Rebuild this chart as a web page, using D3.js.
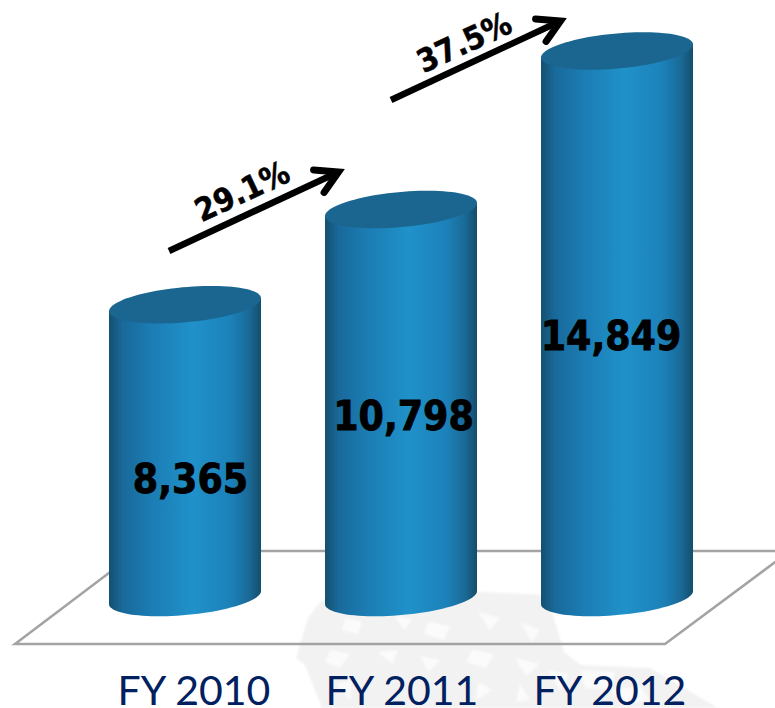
<!DOCTYPE html>
<html><head><meta charset="utf-8">
<style>html,body{margin:0;padding:0;background:#fff;overflow:hidden}svg{display:block}</style>
<script src="https://cdn.jsdelivr.net/npm/d3@7/dist/d3.min.js"></script>
</head><body><svg id="chart" width="775" height="708"></svg>
<script>
const categories = ["FY 2010", "FY 2011", "FY 2012"];
const revenue = [8365, 10798, 14849];
const growthLabels = ["29.1%", "37.5%"];
const valueLabels = ["8,365", "10,798", "14,849"];

const svg = d3.select("#chart");
const x = d3.scalePoint().domain(categories).range([185, 617]);
const y = d3.scaleLinear().domain([0, 14849]).range([632, 51]);

const halfWidth = 76, tipSkew = -6.5, rim = 17.6, baseY = 597.5;
const angles = d3.range(0, 361, 4).map(d => d * Math.PI / 180);
const rimPoint = (cx, cy, t) => [cx + halfWidth * Math.cos(t), cy + tipSkew * Math.cos(t) + rim * Math.sin(t)];
const line = d3.line();

const defs = svg.append("defs");
const body = defs.append("linearGradient").attr("id", "cylinder");
[[0, "#14506f"], [0.09, "#19699a"], [0.28, "#1b7db3"], [0.55, "#2091ca"], [0.8, "#1c81b9"], [0.92, "#1a6a97"], [1, "#144d6c"]]
  .forEach(([o, c]) => body.append("stop").attr("offset", o).attr("stop-color", c));
defs.append("filter").attr("id", "soften").append("feGaussianBlur").attr("stdDeviation", 1);

// Faint emblem behind the floor: a pale silhouette with small white flecks
const emblem = [[308,618],[322,600],[480,592],[547,595],[564,652],[581,665],[650,668],[718,708],[322,708],[305,665],[296,658]];
const flecks = [
  [[345,618],[362,622],[358,634],[342,630]], [[395,616],[412,620],[404,630]],
  [[428,622],[450,626],[444,640],[424,634]], [[478,612],[500,618],[490,630]],
  [[520,622],[540,630],[532,642]], [[330,650],[350,654],[340,668],[325,662]],
  [[378,652],[398,650],[392,664]], [[420,656],[440,660],[428,672]],
  [[472,650],[494,654],[486,668],[466,662]], [[515,658],[540,664],[526,676]],
  [[336,684],[352,680],[350,700]], [[478,682],[492,690],[476,700]],
  [[520,684],[530,700],[516,702]], [[580,670],[615,672],[610,690],[585,688]],
  [[610,690],[640,686],[650,700],[622,704]], [[548,670],[568,674],[560,690]]
];
const backdrop = svg.append("g").attr("filter", "url(#soften)");
backdrop.append("path").attr("d", line(emblem) + "Z").attr("fill", "#f2f2f2");
backdrop.selectAll("path.fleck").data(flecks).join("path").attr("class", "fleck")
  .attr("d", d => line(d) + "Z").attr("fill", "#fbfbfb");

// Floor plane
svg.append("path")
  .attr("d", line([[138, 551], [790, 551], [665, 644], [15, 644]]) + "Z")
  .attr("fill", "none").attr("stroke", "#a3a3a3").attr("stroke-width", 2.5);

// Cylinders
const bars = svg.append("g").selectAll("g").data(categories).join("g");
bars.append("path")
  .attr("d", (c, i) => {
    const cx = x(c), top = y(revenue[i]);
    const lower = angles.filter(t => t <= Math.PI).map(t => rimPoint(cx, baseY, t));
    return line([rimPoint(cx, top, 0), ...lower, rimPoint(cx, top, Math.PI)]) + "Z";
  })
  .attr("fill", "url(#cylinder)");
bars.append("path")
  .attr("d", (c, i) => line(angles.map(t => rimPoint(x(c), y(revenue[i]), t))) + "Z")
  .attr("fill", "#1a6690");

// Value labels
bars.append("text")
  .attr("x", (c, i) => x(c) + [5.5, 2.5, -6][i])
  .attr("y", (c, i) => [493, 430, 350][i])
  .attr("text-anchor", "middle")
  .attr("font-family", "'DejaVu Sans Condensed', 'DejaVu Sans', sans-serif").attr("font-weight", 700)
  .attr("font-size", 40.5).attr("fill", "#000").attr("stroke", "#000").attr("stroke-width", 0.8)
  .text((c, i) => valueLabels[i]);

// Category labels
svg.append("g").selectAll("text").data(categories).join("text")
  .attr("x", (c, i) => x(c) + [9, 1, -7][i]).attr("y", 705)
  .attr("text-anchor", "middle")
  .attr("font-family", "Lato, sans-serif")
  .attr("font-size", 41).attr("fill", "#002060")
  .text(c => c);

// Growth arrows between consecutive years
const arrowPaths = [[[169, 251], [338.5, 172]], [[391, 100], [560.5, 21]]];
const labelSpots = [[242, 191, -25], [464, 42, -25]];
const arrows = svg.append("g").selectAll("g").data(growthLabels).join("g");
arrows.append("path")
  .attr("d", (g, i) => line(arrowPaths[i]))
  .attr("fill", "none").attr("stroke", "#000").attr("stroke-width", 6.5);
arrows.append("path")
  .attr("d", (g, i) => {
    const [a, b] = arrowPaths[i], ang = Math.atan2(b[1] - a[1], b[0] - a[0]);
    const barb = s => [b[0] - 25 * Math.cos(ang + s), b[1] - 25 * Math.sin(ang + s)];
    return line([barb(0.52), b, barb(-0.52)]);
  })
  .attr("fill", "none").attr("stroke", "#000").attr("stroke-width", 7)
  .attr("stroke-linecap", "round").attr("stroke-linejoin", "miter");
arrows.append("text")
  .attr("transform", (g, i) => `translate(${labelSpots[i][0]},${labelSpots[i][1]}) rotate(${labelSpots[i][2]})`)
  .attr("text-anchor", "middle").attr("dy", "0.36em")
  .attr("font-family", "'DejaVu Sans Condensed', 'DejaVu Sans', sans-serif").attr("font-weight", 700)
  .attr("font-size", 32).attr("fill", "#000").attr("stroke", "#000").attr("stroke-width", 0.5)
  .text(g => g);
</script></body></html>
